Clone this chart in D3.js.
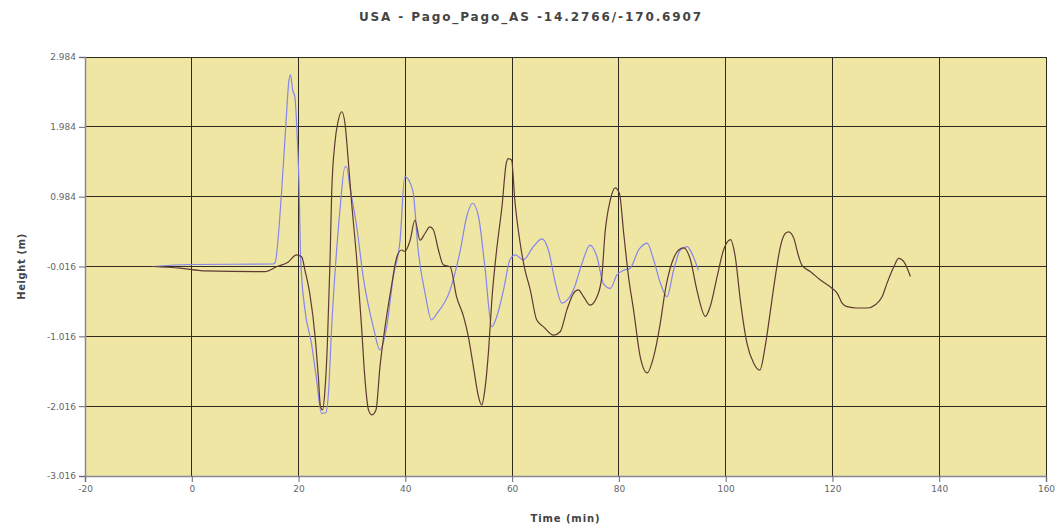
<!DOCTYPE html>
<html>
<head>
<meta charset="utf-8">
<script src="https://cdn.jsdelivr.net/npm/d3@7"></script>
<style>
  html, body { margin: 0; padding: 0; background: #ffffff; }
  svg { display: block; }
  text { font-family: "DejaVu Sans", Verdana, sans-serif; }
</style>
</head>
<body>
<svg id="chart" width="1062" height="527"></svg>
<script>
// Tide-gauge record: observed and modelled sea-surface height (m) vs time (min)
const chartTitle = "USA - Pago_Pago_AS -14.2766/-170.6907";
const xLabel = "Time (min)";
const yLabel = "Height (m)";

const xTicks = [-20, 0, 20, 40, 60, 80, 100, 120, 140, 160];
const yTicks = [-3.016, -2.016, -1.016, -0.016, 0.984, 1.984, 2.984];

// Blue series
const blueTime = [-7.3, -0.4, 15.2, 15.6, 16.8, 17.6, 18.2, 18.5, 18.9, 19.3, 19.8, 20.1, 20.4, 21.2, 22.4,
  23.3, 24.3, 25.1, 25.6, 26.2, 27.0, 27.75, 28.7, 29.0, 29.6, 30.9, 32.1, 34.0, 35.25, 36.5, 37.75,
  39.0, 39.9, 40.9, 41.5, 42.4, 43.7, 44.9, 45.9, 48.4, 50.3, 51.5, 52.6, 53.7, 54.9, 56.2, 57.1,
  58.4, 59.6, 60.6, 62.1, 64.0, 65.6, 66.8, 68.1, 69.3, 71.5, 73.1, 74.6, 75.9, 77.1, 78.4, 79.6,
  80.9, 82.1, 83.7, 85.3, 86.5, 87.8, 89.0, 90.25, 91.5, 92.8, 93.8, 94.9];
const blueHeight = [-0.016, 0.013, 0.02, 0.04, 1.03, 1.99, 2.65, 2.73, 2.51, 2.42, 1.75, 1.13, 0.08, -0.64, -1.11,
  -1.59, -2.12, -2.11, -1.83, -0.88, 0.08, 0.79, 1.41, 1.41, 1.13, 0.55, -0.16, -0.88, -1.21, -0.88, -0.16,
  0.35, 1.27, 1.18, 1.03, 0.22, -0.40, -0.78, -0.69, -0.35, 0.22, 0.70, 0.89, 0.70, -0.02, -0.88, -0.74,
  -0.35, 0.08, 0.15, 0.08, 0.27, 0.38, 0.22, -0.25, -0.54, -0.35, 0.03, 0.29, 0.12, -0.26, -0.33, -0.14,
  -0.07, -0.04, 0.22, 0.32, 0.08, -0.26, -0.45, -0.07, 0.22, 0.27, 0.15, -0.07];

// Dark series
const darkTime = [-7.3, -2.2, 2.5, 13.7, 15.9, 18.1, 19.6, 20.6, 21.2, 22.1, 23.1, 23.7, 24.1, 24.5, 24.9,
  25.4, 25.9, 26.2, 26.8, 27.45, 28.1, 28.7, 29.3, 29.95, 30.9, 31.8, 32.4, 33.1, 33.7, 34.5, 35.25,
  36.2, 37.4, 38.4, 39.3, 39.9, 40.9, 41.8, 42.75, 43.7, 44.6, 45.25, 46.2, 47.1, 48.4, 49.6, 50.9,
  51.8, 52.75, 53.7, 54.3, 54.9, 55.6, 56.2, 57.1, 58.1, 58.9, 59.3, 59.9, 60.5, 61.5, 62.4, 63.4,
  64.6, 65.9, 67.75, 69.0, 70.25, 71.5, 72.4, 73.4, 74.6, 75.9, 76.8, 77.4, 78.4, 79.3, 80.1, 80.9,
  81.8, 82.75, 84.0, 85.3, 86.5, 87.75, 88.7, 89.9, 91.2, 92.1, 93.4, 94.6, 96.2, 97.1, 98.4, 99.6,
  100.9, 101.8, 102.75, 104.0, 105.25, 106.4, 107.4, 108.4, 109.3, 110.25, 111.2, 111.8, 112.75, 113.7,
  114.3, 115.9, 117.75, 119.95, 120.9, 121.8, 122.75, 124.6, 126.5, 128.1, 129.3, 130.25, 131.5, 132.4,
  133.4, 134.6];
const darkHeight = [-0.016, -0.04, -0.08, -0.09, -0.02, 0.05, 0.15, 0.12, -0.07, -0.40, -1.02, -1.59, -2.02, -2.07, -1.83,
  -1.12, 0.08, 1.03, 1.75, 2.08, 2.2, 2.03, 1.51, 0.89, 0.08, -0.88, -1.59, -2.07, -2.14, -2.07, -1.45,
  -0.88, -0.30, 0.12, 0.22, 0.20, 0.36, 0.65, 0.36, 0.46, 0.55, 0.51, 0.22, 0.01, -0.02, -0.45, -0.73,
  -1.02, -1.45, -1.88, -2.0, -1.78, -1.21, -0.50, 0.22, 0.84, 1.46, 1.53, 1.51, 0.94, 0.32, -0.06, -0.35,
  -0.78, -0.88, -1.0, -0.95, -0.64, -0.40, -0.35, -0.45, -0.57, -0.45, -0.16, 0.46, 0.94, 1.11, 1.03, 0.46,
  -0.16, -0.64, -1.31, -1.54, -1.31, -0.83, -0.35, 0.03, 0.22, 0.25, 0.08, -0.35, -0.73, -0.59, -0.16, 0.22,
  0.37, 0.12, -0.50, -1.12, -1.40, -1.50, -1.16, -0.64, -0.16, 0.27, 0.46, 0.48, 0.39, 0.12,
  0.0, -0.09, -0.21, -0.33, -0.40, -0.54, -0.59, -0.61, -0.61, -0.56, -0.45, -0.25, -0.02, 0.10,
  0.05, -0.16];

const margin = { top: 57, right: 16, bottom: 51, left: 85 };
const width = 1062, height = 527;
const innerW = width - margin.left - margin.right;
const innerH = height - margin.top - margin.bottom;

const svg = d3.select("#chart");
const g = svg.append("g").attr("transform", `translate(${margin.left},${margin.top})`);

const x = d3.scaleLinear().domain([-20, 160]).range([0, innerW]);
const y = d3.scaleLinear().domain([-3.016, 2.984]).range([innerH, 0]);

// Plain ASCII hyphen for negative numbers
const fmtX = d => String(d);
const fmtY = d => d.toFixed(3);

// Plot background
g.append("rect").attr("width", innerW).attr("height", innerH).attr("fill", "#efe6a3");

// Grid
g.append("g").selectAll("line").data(xTicks).join("line")
  .attr("x1", d => x(d)).attr("x2", d => x(d)).attr("y1", 0).attr("y2", innerH)
  .attr("stroke", "#2e2a22").attr("stroke-width", 1).attr("shape-rendering", "crispEdges");
g.append("g").selectAll("line").data(yTicks).join("line")
  .attr("x1", 0).attr("x2", innerW).attr("y1", d => y(d)).attr("y2", d => y(d))
  .attr("stroke", "#2e2a22").attr("stroke-width", 1).attr("shape-rendering", "crispEdges");

// Axes
const xAxis = g.append("g").attr("transform", `translate(0,${innerH})`)
  .call(d3.axisBottom(x).tickValues(xTicks).tickSize(6).tickPadding(4).tickFormat(fmtX));
const yAxis = g.append("g")
  .call(d3.axisLeft(y).tickValues(yTicks).tickSize(6).tickPadding(3).tickFormat(fmtY));
[xAxis, yAxis].forEach(a => {
  a.select(".domain").attr("stroke", "#8a8798").attr("stroke-width", 1.5);
  a.selectAll(".tick line").attr("stroke", "#6a6870");
  a.selectAll(".tick text").attr("fill", "#666").attr("font-size", 9)
    .attr("font-family", "DejaVu Sans, sans-serif");
});

// Series
const line = d3.line().x(d => x(d[0])).y(d => y(d[1])).curve(d3.curveMonotoneX);
const blue = blueTime.map((t, i) => [t, blueHeight[i]]);
const dark = darkTime.map((t, i) => [t, darkHeight[i]]);

g.append("path").datum(blue).attr("d", line)
  .attr("fill", "none").attr("stroke", "#8585ee").attr("stroke-width", 1.2);
g.append("path").datum(dark).attr("d", line)
  .attr("fill", "none").attr("stroke", "#5e3a33").attr("stroke-width", 1.2);

// Titles
svg.append("text").attr("x", 531).attr("y", 21).attr("text-anchor", "middle")
  .attr("font-size", 12).attr("font-weight", "bold").attr("letter-spacing", 1.9)
  .attr("fill", "#444").text(chartTitle);
svg.append("text").attr("x", margin.left + innerW / 2).attr("y", 522).attr("text-anchor", "middle")
  .attr("font-size", 10).attr("font-weight", "bold").attr("letter-spacing", 0.9)
  .attr("fill", "#444").text(xLabel);
svg.append("text").attr("transform", `translate(25,${margin.top + innerH / 2}) rotate(-90)`)
  .attr("text-anchor", "middle").attr("font-size", 10).attr("font-weight", "bold")
  .attr("letter-spacing", 0.6).attr("fill", "#444").text(yLabel);
</script>
</body>
</html>
